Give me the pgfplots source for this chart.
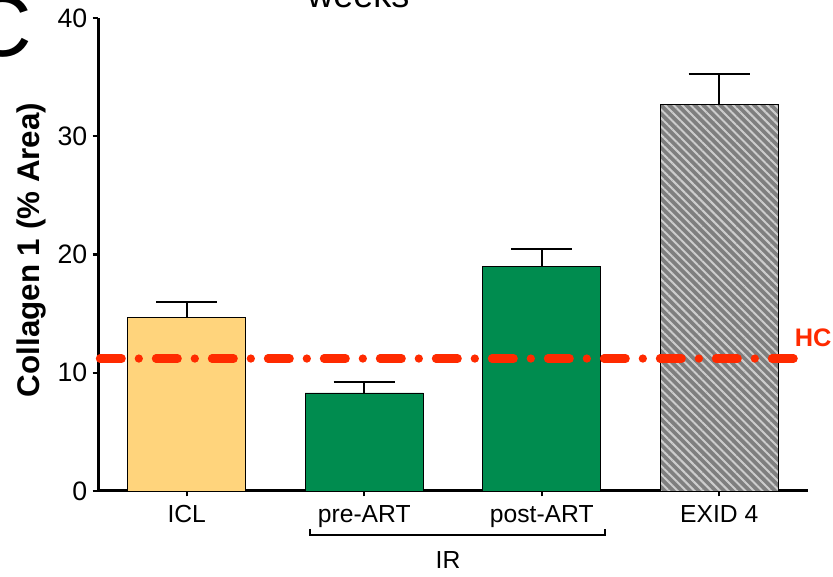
\documentclass[border=0pt]{standalone}
\usepackage{fontspec}
\setmainfont{Liberation Sans}
\usepackage{pgfplots}
\pgfplotsset{compat=1.18}
\usetikzlibrary{patterns.meta}
\definecolor{iclyellow}{HTML}{FFD47C}
\definecolor{irgreen}{HTML}{008C4F}
\definecolor{hcred}{HTML}{FF2A00}
\definecolor{hatchbg}{HTML}{7F7F7F}
\definecolor{hatchln}{HTML}{CDCDCD}
\begin{document}
\begin{tikzpicture}
\begin{axis}[
  at={(73.5pt,64.5pt)}, anchor=south west,
  scale only axis, width=532.5pt, height=354.75pt,
  xmin=-0.5, xmax=3.5, ymin=0, ymax=40,
  axis x line=bottom, axis y line=left,
  axis line style={-, line width=2.25pt, black},
  tick align=outside, major tick length=4pt,
  tick style={black, line width=1.6pt},
  xtick={0,1,2,3}, xticklabels={ICL,pre-ART,post-ART,EXID 4},
  ytick={0,10,20,30,40},
  /pgf/number format/assume math mode=true,
  xticklabel style={font=\fontsize{18.5}{22}\selectfont, yshift=-3pt},
  yticklabel style={font=\fontsize{20}{24}\selectfont, xshift=-0.5pt},
  clip=false,
  error bars/y dir=plus, error bars/y explicit,
  error bars/error bar style={line width=1.4pt, black},
  error bars/error mark options={rotate=90, mark size=22.9pt, line width=1.4pt, black},
]
\addplot[ybar, bar width=0.665, bar shift=0pt, fill=iclyellow, draw=black, line width=0.6pt]
  coordinates {(0,14.66) +- (0,1.30)};
\addplot[ybar, bar width=0.665, bar shift=0pt, fill=irgreen, draw=black, line width=0.6pt]
  coordinates {(1,8.29) +- (0,0.95) (2,18.97) +- (0,1.50)};
\addplot[ybar, bar width=0.665, bar shift=0pt, fill=hatchbg, draw=black, line width=0.6pt,
  postaction={pattern={Lines[angle=-45, distance=4.5pt, line width=1.5pt]}, pattern color=hatchln}]
  coordinates {(3,32.70) +- (0,2.54)};
\addplot[hcred, line width=6.2pt, line cap=round,
  dash pattern=on 16.3pt off 12.85pt on 0pt off 12.85pt, forget plot]
  coordinates {(-0.489,11.2) (3.419,11.2)};
\end{axis}
% annotations
\node[anchor=west, inner sep=0pt, text=hcred, font=\fontsize{19}{22}\selectfont\bfseries] at (596pt,179.25pt) {HC};
\node[rotate=90, font=\fontsize{23.5}{28}\selectfont\bfseries] at (23.5pt,245.25pt) {Collagen 1 (\% Area)};
\draw[line width=2pt] (232.5pt,36pt) -- (232.5pt,31.5pt) -- (453.75pt,31.5pt) -- (453.75pt,36pt);
\node[font=\fontsize{18.5}{22}\selectfont] at (336pt,12.75pt) {IR};
\node[anchor=base west, inner sep=0pt, font=\fontsize{65}{70}\selectfont] at (-23.25pt,390pt) {C};
\node[anchor=base west, inner sep=0pt, font=\fontsize{27}{30}\selectfont] at (230.25pt,426.75pt) {weeks};
\pgfresetboundingbox
\useasboundingbox (0,0) rectangle (624.75pt,432.75pt);
\end{tikzpicture}
\end{document}
